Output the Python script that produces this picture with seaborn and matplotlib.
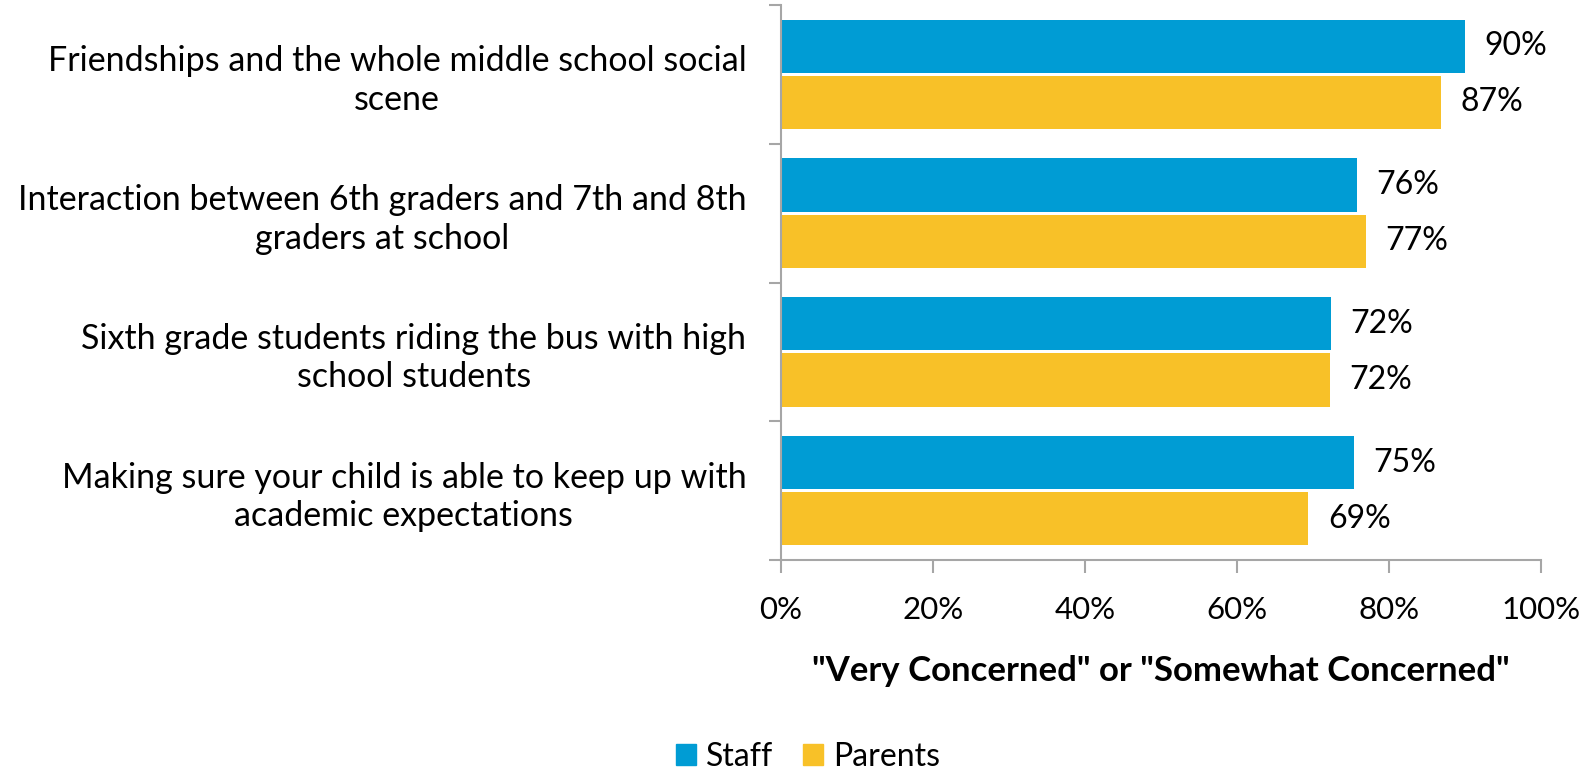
import matplotlib
matplotlib.use("Agg")
import matplotlib.pyplot as plt
import seaborn as sns
import pandas as pd
import numpy as np

categories = [
    "Friendships and the whole middle school social\nscene",
    "Interaction between 6th graders and 7th and 8th\ngraders at school",
    "Sixth grade students riding the bus with high\nschool students",
    "Making sure your child is able to keep up with\nacademic expectations",
]
staff = [90.0, 75.8, 72.4, 75.4]
parents = [86.9, 77.0, 72.2, 69.4]
series = ["Staff", "Parents"]
xticks = [0, 20, 40, 60, 80, 100]

df = pd.DataFrame({
    "cat": categories * 2,
    "val": staff + parents,
    "grp": ["Staff"] * 4 + ["Parents"] * 4,
})

sns.set_theme(style="white")
plt.rcParams["font.family"] = ["Lato", "DejaVu Sans"]
plt.rcParams["text.color"] = "black"
plt.rcParams["axes.labelcolor"] = "black"
plt.rcParams["xtick.labelcolor"] = "black"
plt.rcParams["ytick.labelcolor"] = "black"

W, H = 1585, 773
fig = plt.figure(figsize=(W / 100, H / 100), dpi=100)
ax = fig.add_axes([781 / W, 1 - 560 / H, (1541 - 781) / W, (560 - 5) / H])

palette = {"Staff": "#009CD4", "Parents": "#F8C128"}
sns.barplot(data=df, y="cat", x="val", hue="grp", hue_order=series, order=categories,
            palette=palette, orient="h", width=0.81, gap=0.05, ax=ax,
            edgecolor="none", saturation=1, legend=True)

for cont in ax.containers:
    ax.bar_label(cont, labels=[f"{v:.0f}%" for v in cont.datavalues], padding=14,
                 fontsize=23, color="black")

ax.set_xlim(0, 100)
ax.set_ylim(3.5, -0.5)
ax.set_xticks(xticks)
ax.set_xticklabels([f"{t}%" for t in xticks], fontsize=22.5)
ax.set_yticks(range(len(categories)))
ax.set_yticklabels(categories, fontsize=24.5, ha="right", multialignment="center",
                   linespacing=1.25)
ax.set_yticks(np.arange(-0.5, len(categories), 1), minor=True)
ax.tick_params(axis="y", which="major", length=0, pad=25, labelcolor="black")
ax.tick_params(axis="y", which="minor", length=9, width=1.5, color="#A6A6A6", direction="out", left=True)
ax.tick_params(axis="x", which="major", length=9, width=1.5, color="#A6A6A6", direction="out",
               bottom=True, pad=17, labelcolor="black")
ax.set_ylabel("")
ax.set_xlabel('"Very Concerned" or "Somewhat Concerned"', fontsize=25, fontweight="bold",
              labelpad=22, color="black")

for s in ["top", "right"]:
    ax.spines[s].set_visible(False)
for s in ["left", "bottom"]:
    ax.spines[s].set_color("#A6A6A6")
    ax.spines[s].set_linewidth(1.5)

ax.get_legend().remove()
handles = [plt.Rectangle((0, 0), 1, 1, color=palette[s]) for s in series]
fig.legend(handles, series, loc="center", bbox_to_anchor=(808 / W, 1 - 757 / H), ncol=2,
           frameon=False, fontsize=23, handlelength=0.62, handleheight=0.62, handletextpad=0.3,
           columnspacing=0.95, labelcolor="black")

fig.savefig("out.png", dpi=100)
